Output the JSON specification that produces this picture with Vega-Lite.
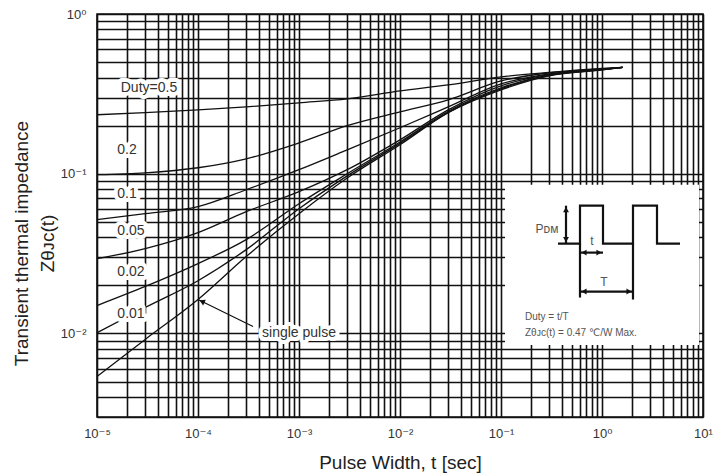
{
  "$schema": "https://vega.github.io/schema/vega-lite/v6.json",
  "width": 606,
  "height": 403,
  "autosize": {"type": "none"},
  "padding": {"left": 97, "top": 14, "right": 14, "bottom": 56},
  "background": "white",
  "config": {
    "font": "Liberation Sans, DejaVu Sans, sans-serif",
    "view": {"stroke": "#111", "strokeWidth": 1.6}
  },
  "datasets": {
    "curves": [
      {"duty": "0.5", "t": 0.00001, "z": 0.234}, {"duty": "0.5", "t": 0.00003, "z": 0.241}, {"duty": "0.5", "t": 0.0001, "z": 0.251}, {"duty": "0.5", "t": 0.0003, "z": 0.262}, {"duty": "0.5", "t": 0.001, "z": 0.278}, {"duty": "0.5", "t": 0.003, "z": 0.294}, {"duty": "0.5", "t": 0.01, "z": 0.33}, {"duty": "0.5", "t": 0.03, "z": 0.36}, {"duty": "0.5", "t": 0.1, "z": 0.404}, {"duty": "0.5", "t": 0.3, "z": 0.431}, {"duty": "0.5", "t": 1, "z": 0.456}, {"duty": "0.5", "t": 1.6, "z": 0.463},
      {"duty": "0.2", "t": 0.00001, "z": 0.0986}, {"duty": "0.2", "t": 0.00003, "z": 0.1014}, {"duty": "0.2", "t": 0.0001, "z": 0.109}, {"duty": "0.2", "t": 0.0003, "z": 0.124}, {"duty": "0.2", "t": 0.001, "z": 0.156}, {"duty": "0.2", "t": 0.003, "z": 0.2}, {"duty": "0.2", "t": 0.01, "z": 0.244}, {"duty": "0.2", "t": 0.03, "z": 0.29}, {"duty": "0.2", "t": 0.1, "z": 0.381}, {"duty": "0.2", "t": 0.3, "z": 0.428}, {"duty": "0.2", "t": 1, "z": 0.453}, {"duty": "0.2", "t": 1.6, "z": 0.463},
      {"duty": "0.1", "t": 0.00001, "z": 0.0516}, {"duty": "0.1", "t": 0.00003, "z": 0.0562}, {"duty": "0.1", "t": 0.0001, "z": 0.0622}, {"duty": "0.1", "t": 0.0003, "z": 0.0794}, {"duty": "0.1", "t": 0.001, "z": 0.106}, {"duty": "0.1", "t": 0.003, "z": 0.141}, {"duty": "0.1", "t": 0.01, "z": 0.194}, {"duty": "0.1", "t": 0.03, "z": 0.262}, {"duty": "0.1", "t": 0.1, "z": 0.365}, {"duty": "0.1", "t": 0.3, "z": 0.422}, {"duty": "0.1", "t": 1, "z": 0.45}, {"duty": "0.1", "t": 1.6, "z": 0.463},
      {"duty": "0.05", "t": 0.00001, "z": 0.0294}, {"duty": "0.05", "t": 0.00003, "z": 0.034}, {"duty": "0.05", "t": 0.0001, "z": 0.0428}, {"duty": "0.05", "t": 0.0003, "z": 0.0579}, {"duty": "0.05", "t": 0.001, "z": 0.0772}, {"duty": "0.05", "t": 0.003, "z": 0.106}, {"duty": "0.05", "t": 0.01, "z": 0.163}, {"duty": "0.05", "t": 0.03, "z": 0.251}, {"duty": "0.05", "t": 0.1, "z": 0.355}, {"duty": "0.05", "t": 0.3, "z": 0.419}, {"duty": "0.05", "t": 1, "z": 0.45}, {"duty": "0.05", "t": 1.6, "z": 0.463},
      {"duty": "0.02", "t": 0.00001, "z": 0.01496}, {"duty": "0.02", "t": 0.00003, "z": 0.0197}, {"duty": "0.02", "t": 0.0001, "z": 0.0274}, {"duty": "0.02", "t": 0.0003, "z": 0.0387}, {"duty": "0.02", "t": 0.001, "z": 0.0649}, {"duty": "0.02", "t": 0.003, "z": 0.1}, {"duty": "0.02", "t": 0.01, "z": 0.158}, {"duty": "0.02", "t": 0.03, "z": 0.246}, {"duty": "0.02", "t": 0.1, "z": 0.345}, {"duty": "0.02", "t": 0.3, "z": 0.416}, {"duty": "0.02", "t": 1, "z": 0.45}, {"duty": "0.02", "t": 1.6, "z": 0.463},
      {"duty": "0.01", "t": 0.00001, "z": 0.0101}, {"duty": "0.01", "t": 0.00003, "z": 0.01454}, {"duty": "0.01", "t": 0.0001, "z": 0.0214}, {"duty": "0.01", "t": 0.0003, "z": 0.0335}, {"duty": "0.01", "t": 0.001, "z": 0.0604}, {"duty": "0.01", "t": 0.003, "z": 0.097}, {"duty": "0.01", "t": 0.01, "z": 0.155}, {"duty": "0.01", "t": 0.03, "z": 0.242}, {"duty": "0.01", "t": 0.1, "z": 0.34}, {"duty": "0.01", "t": 0.3, "z": 0.413}, {"duty": "0.01", "t": 1, "z": 0.447}, {"duty": "0.01", "t": 1.6, "z": 0.463},
      {"duty": "single", "t": 0.00001, "z": 0.00538}, {"duty": "single", "t": 0.00003, "z": 0.00918}, {"duty": "single", "t": 0.0001, "z": 0.0163}, {"duty": "single", "t": 0.0003, "z": 0.0303}, {"duty": "single", "t": 0.001, "z": 0.0562}, {"duty": "single", "t": 0.003, "z": 0.094}, {"duty": "single", "t": 0.01, "z": 0.152}, {"duty": "single", "t": 0.03, "z": 0.241}, {"duty": "single", "t": 0.1, "z": 0.335}, {"duty": "single", "t": 0.3, "z": 0.41}, {"duty": "single", "t": 1, "z": 0.447}, {"duty": "single", "t": 1.6, "z": 0.463}
    ],
    "labels": [
      {"label": "Duty=0.5", "t": 0.0000327, "z": 0.345},
      {"label": "0.2", "t": 0.0000198, "z": 0.141},
      {"label": "0.1", "t": 0.0000198, "z": 0.075},
      {"label": "0.05", "t": 0.0000217, "z": 0.044},
      {"label": "0.02", "t": 0.0000217, "z": 0.0244},
      {"label": "0.01", "t": 0.0000217, "z": 0.01315},
      {"label": "single pulse", "t": 0.001, "z": 0.0101}
    ],
    "inset": [
      {"t": 0.1096, "t2": 9.13, "z": 0.0853, "z2": 0.00848}
    ],
    "wave": [
      {"i": 0, "t": 0.3667, "z": 0.0365}, {"i": 1, "t": 0.6055, "z": 0.0365}, {"i": 2, "t": 0.6055, "z": 0.0631}, {"i": 3, "t": 1.023, "z": 0.0631}, {"i": 4, "t": 1.023, "z": 0.0365}, {"i": 5, "t": 2.027, "z": 0.0365}, {"i": 6, "t": 2.027, "z": 0.0631}, {"i": 7, "t": 3.504, "z": 0.0631}, {"i": 8, "t": 3.504, "z": 0.0365}, {"i": 9, "t": 5.92, "z": 0.0365}
    ],
    "rules": [
      {"kind": "bold", "t": 0.6055, "z": 0.0365, "t2": 0.6055, "z2": 0.01679},
      {"kind": "bold", "t": 2.027, "z": 0.0365, "t2": 2.027, "z2": 0.01631},
      {"kind": "bold", "t": 0.4401, "z": 0.0631, "t2": 0.4401, "z2": 0.0365},
      {"kind": "bold", "t": 0.6055, "z": 0.03208, "t2": 1.023, "z2": 0.03208},
      {"kind": "bold", "t": 0.6055, "z": 0.0183, "t2": 2.027, "z2": 0.0183},
      {"kind": "thin", "t": 0.0003504, "z": 0.01106, "t2": 0.0001, "z2": 0.0163}
    ],
    "heads": [
      {"dir": "up", "t": 0.4401, "z": 0.0596},
      {"dir": "down", "t": 0.4401, "z": 0.0387},
      {"dir": "left", "t": 0.6635, "z": 0.03208},
      {"dir": "right", "t": 0.9339, "z": 0.03208},
      {"dir": "left", "t": 0.6635, "z": 0.0183},
      {"dir": "right", "t": 1.85, "z": 0.0183}
    ],
    "pointer": [
      {"t": 0.0001095, "z": 0.01585}
    ],
    "notes": [
      {"label": "Duty = t/T", "t": 0.1728, "z": 0.01277},
      {"label": "Zθᴊᴄ(t) = 0.47 ℃/W Max.", "t": 0.1728, "z": 0.01014}
    ],
    "diag": [
      {"label": "Pᴅᴍ", "t": 0.2853, "z": 0.04529},
      {"label": "t", "t": 0.796, "z": 0.03813},
      {"label": "T", "t": 1.047, "z": 0.02113}
    ]
  },
  "encoding": {
    "x": {
      "field": "t",
      "type": "quantitative",
      "scale": {"type": "log", "domain": [0.00001, 10], "nice": false},
      "title": "Pulse Width, t [sec]",
      "axis": {
        "values": [0.00001, 0.00002, 0.00003, 0.00004, 0.00005, 0.00006, 0.00007, 0.00008, 0.00009, 0.0001, 0.0002, 0.0003, 0.0004, 0.0005, 0.0006, 0.0007, 0.0008, 0.0009, 0.001, 0.002, 0.003, 0.004, 0.005, 0.006, 0.007, 0.008, 0.009, 0.01, 0.02, 0.03, 0.04, 0.05, 0.06, 0.07, 0.08, 0.09, 0.1, 0.2, 0.3, 0.4, 0.5, 0.6, 0.7, 0.8, 0.9, 1, 2, 3, 4, 5, 6, 7, 8, 9, 10],
        "grid": true, "gridColor": "#111", "gridWidth": 1.6, "gridOpacity": 1,
        "ticks": false, "domain": false,
        "labelExpr": "datum.value == 0.00001 ? '10⁻⁵' : datum.value == 0.0001 ? '10⁻⁴' : datum.value == 0.001 ? '10⁻³' : datum.value == 0.01 ? '10⁻²' : datum.value == 0.1 ? '10⁻¹' : datum.value == 1 ? '10⁰' : datum.value == 10 ? '10¹' : ''",
        "labelFontSize": 13, "labelColor": "#333", "labelPadding": 10, "labelFlush": false, "labelOverlap": false,
        "titleFontSize": 19, "titleFontWeight": "normal", "titleColor": "#222", "titleBaseline": "alphabetic", "titleY": 51
      }
    },
    "y": {
      "field": "z",
      "type": "quantitative",
      "scale": {"type": "log", "domain": [0.003, 1], "nice": false},
      "title": ["Transient thermal impedance", "Zθᴊᴄ(t)"],
      "axis": {
        "values": [0.003, 0.004, 0.005, 0.006, 0.007, 0.008, 0.009, 0.01, 0.02, 0.03, 0.04, 0.05, 0.06, 0.07, 0.08, 0.09, 0.1, 0.2, 0.3, 0.4, 0.5, 0.6, 0.7, 0.8, 0.9, 1],
        "grid": true, "gridColor": "#111", "gridWidth": 1.6, "gridOpacity": 1,
        "ticks": false, "domain": false,
        "labelExpr": "datum.value == 1 ? '10⁰' : datum.value == 0.1 ? '10⁻¹' : datum.value == 0.01 ? '10⁻²' : ''",
        "labelFontSize": 13, "labelColor": "#333", "labelPadding": 11, "labelOverlap": false,
        "titleFontSize": 19, "titleFontWeight": "normal", "titleColor": "#222",
        "titleAngle": -90, "titleAlign": "center", "titleBaseline": "alphabetic",
        "titleX": -70, "titleY": 229, "titleLineHeight": 26
      }
    }
  },
  "layer": [
    {
      "data": {"name": "curves"},
      "mark": {"type": "line", "color": "#111", "strokeWidth": 1.3, "interpolate": "monotone"},
      "encoding": {"detail": {"field": "duty", "type": "nominal"}}
    },
    {
      "data": {"name": "inset"},
      "mark": {"type": "rect", "color": "white"},
      "encoding": {"x2": {"field": "t2"}, "y2": {"field": "z2"}}
    },
    {
      "data": {"name": "wave"},
      "mark": {"type": "line", "color": "#111", "strokeWidth": 2.2},
      "encoding": {"order": {"field": "i", "type": "quantitative"}}
    },
    {
      "data": {"name": "rules"},
      "transform": [{"filter": "datum.kind == 'bold'"}],
      "mark": {"type": "rule", "color": "#111", "strokeWidth": 2.2},
      "encoding": {"x2": {"field": "t2"}, "y2": {"field": "z2"}}
    },
    {
      "data": {"name": "rules"},
      "transform": [{"filter": "datum.kind == 'thin'"}],
      "mark": {"type": "rule", "color": "#111", "strokeWidth": 1.2},
      "encoding": {"x2": {"field": "t2"}, "y2": {"field": "z2"}}
    },
    {
      "data": {"name": "heads"},
      "mark": {"type": "point", "filled": true, "color": "#111", "size": 35, "opacity": 1},
      "encoding": {
        "shape": {"field": "dir", "type": "nominal", "legend": null,
          "scale": {"domain": ["up", "down", "left", "right"], "range": ["triangle-up", "triangle-down", "triangle-left", "triangle-right"]}}
      }
    },
    {
      "data": {"name": "pointer"},
      "mark": {"type": "point", "filled": true, "color": "#111", "size": 40, "opacity": 1, "shape": "triangle-up", "angle": 295}
    },
    {
      "data": {"name": "labels"},
      "mark": {"type": "text", "fontSize": 14, "align": "center", "baseline": "middle", "stroke": "white", "strokeWidth": 8, "fill": "white", "strokeJoin": "round"},
      "encoding": {"text": {"field": "label"}}
    },
    {
      "data": {"name": "labels"},
      "mark": {"type": "text", "fontSize": 14, "align": "center", "baseline": "middle", "color": "#333"},
      "encoding": {"text": {"field": "label"}}
    },
    {
      "data": {"name": "notes"},
      "mark": {"type": "text", "fontSize": 10, "align": "left", "baseline": "middle", "color": "#555"},
      "encoding": {"text": {"field": "label"}}
    },
    {
      "data": {"name": "diag"},
      "mark": {"type": "text", "fontSize": 12, "align": "center", "baseline": "middle", "color": "#555"},
      "encoding": {"text": {"field": "label"}}
    }
  ]
}
